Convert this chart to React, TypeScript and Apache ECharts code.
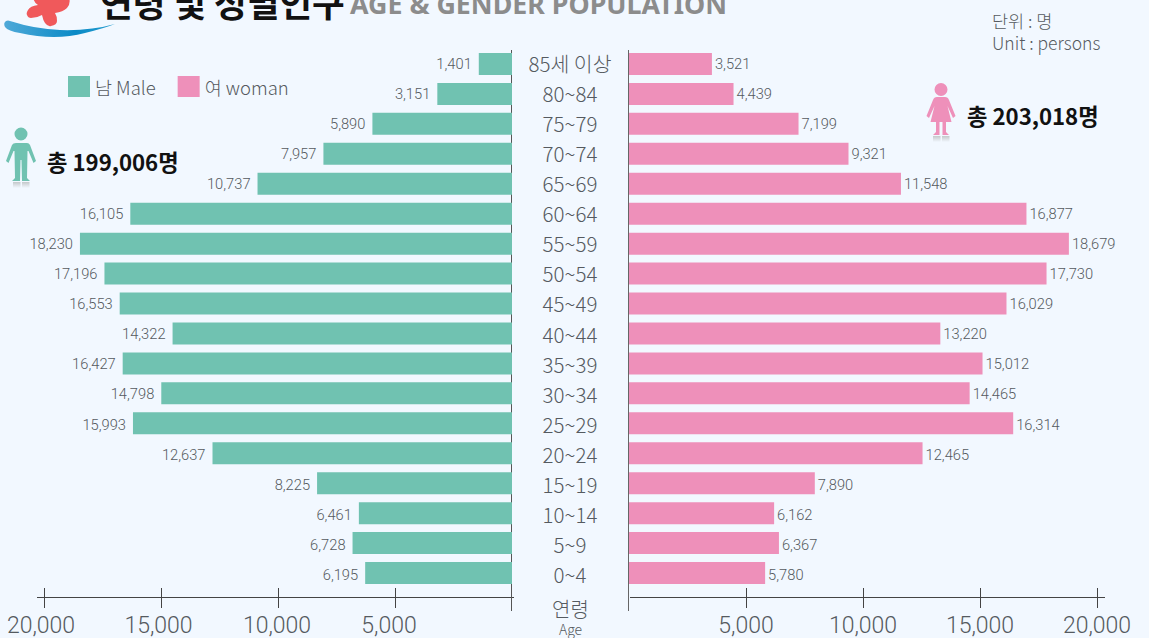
import React, { useEffect, useRef } from "react";
import * as echarts from "echarts";

const ageGroups = ["85세 이상","80~84","75~79","70~74","65~69","60~64","55~59","50~54","45~49","40~44","35~39","30~34","25~29","20~24","15~19","10~14","5~9","0~4"];
const maleValues = [1401,3151,5890,7957,10737,16105,18230,17196,16553,14322,16427,14798,15993,12637,8225,6461,6728,6195];
const femaleValues = [3521,4439,7199,9321,11548,16877,18679,17730,16029,13220,15012,14465,16314,12465,7890,6162,6367,5780];
const axisTicks = [5000,10000,15000,20000];
const maleName = "남 Male";
const femaleName = "여 woman";
const maleTotal = "총 199,006명";
const femaleTotal = "총 203,018명";
const titleKo = "연령 및 성별인구";
const titleEn = "AGE & GENDER POPULATION";

const BG = "#f2f8ff";
const TEAL = "#70c2b1";
const PINK = "#ee90ba";
const TXT = "#555a60";
const FONT = "'Noto Sans CJK KR', 'Noto Sans', sans-serif";
const NUM = "Roboto, 'Noto Sans CJK KR', sans-serif";

const circ = (cx: number, cy: number, r: number) =>
  `M${cx - r} ${cy}A${r} ${r} 0 1 1 ${cx + r} ${cy}A${r} ${r} 0 1 1 ${cx - r} ${cy}Z`;

const manPath = circ(21, 134, 6.5) +
  "M16 143L27 143Q29 143 30 145L36 161L33.5 163L28.5 151L27.5 151L27 178L30 181L22 181L21.5 160L20.5 160L20 181L12 181L15 178L14.5 151L13.5 151L8.5 163L6 161L12 145Q13 143 16 143Z";
const womanPath = circ(941, 89.5, 6.5) +
  "M937 97L945 97Q948 97 949 100L955.5 116L953 118L947.5 106L951.5 122L946 122L946 132L949 135L942.5 135L942.5 122L939.5 122L939.5 135L933 135L936 132L936 122L930.5 122L934.5 106L929 118L926.5 116L933 100Q934 97 937 97Z";
const swooshPath = "M6 21Q3 23 5 27Q8 31 20 33Q55 41 85 33Q105 28 115 24Q90 31 60 30Q35 29 10 21Q8 20 6 21Z";
const flowerPath = "M33 -3Q34 3 38 5Q30 6 28 10Q26 13 27 15Q28 18 31 18Q37 18 42 15Q43 20 45 23Q48 27 51 26Q57 25 57 21Q57 16 55 13Q63 12 67 8Q71 4 69 -3Z";

const shapesRegistered = { done: false };
function registerShapes() {
  if (shapesRegistered.done) return;
  echarts.graphic.registerShape("manIcon", echarts.graphic.extendPath(manPath, {}));
  echarts.graphic.registerShape("womanIcon", echarts.graphic.extendPath(womanPath, {}));
  echarts.graphic.registerShape("swoosh", echarts.graphic.extendPath(swooshPath, {}));
  echarts.graphic.registerShape("flower", echarts.graphic.extendPath(flowerPath, {}));
  shapesRegistered.done = true;
}

const fmt = (v: number) => v.toLocaleString("en-US");

export default function App() {
  const ref = useRef<HTMLDivElement>(null);
  useEffect(() => {
    document.body.style.margin = "0";
    document.body.style.background = BG;
    registerShapes();
    const chart = echarts.init(ref.current!, null, { renderer: "svg" });
    const line = (x1: number, y1: number, x2: number, y2: number, stroke: string) => ({
      type: "line", silent: true, shape: { x1, y1, x2, y2 }, style: { stroke, lineWidth: 1 },
    });
    const text = (x: number, y: number, t: string, size: number, fill: string, extra: any = {}) => ({
      type: "text", x, y, style: { text: t, fontSize: size, fill, fontFamily: FONT, fontWeight: 300, verticalAlign: "middle", ...extra },
    });
    const hiddenBarAxis = (gridIndex: number, inverse: boolean) => ({
      type: "value", gridIndex, inverse, min: 0, max: 20000, interval: 5000,
      axisLine: { show: false }, splitLine: { show: false }, axisTick: { show: false }, axisLabel: { show: false },
    });
    const tickAxisBase = (gridIndex: number, inverse: boolean, offset: number) => ({
      type: "value", gridIndex, inverse, min: 0, max: 20000, interval: 5000, position: "bottom", offset,
      axisLine: { show: false }, splitLine: { show: false },
    });
    const labelStyle = { fontSize: 23, color: TXT, fontFamily: NUM, fontWeight: 300 };
    const leftShift: Record<number, number> = { 20000: 3, 15000: 2.5, 10000: 1, 5000: 6 };
    const mainAxis = (gridIndex: number, inverse: boolean, offset: number) => ({
      ...tickAxisBase(gridIndex, inverse, offset),
      axisTick: { show: true, customValues: axisTicks, length: 11, lineStyle: { color: "#444", width: 1 } },
      axisLabel: {
        show: true, customValues: axisTicks, hideOverlap: false, margin: 17, ...labelStyle,
        formatter: inverse ? (v: number) => `{s${v}|${fmt(v)}}` : (v: number) => fmt(v),
        rich: inverse
          ? Object.fromEntries(axisTicks.map((v) => [`s${v}`, { ...labelStyle, padding: [0, leftShift[v] * 2, 0, 0] }]))
          : undefined,
      },
    });
    const innerAxis = (gridIndex: number, inverse: boolean, offset: number) => ({
      ...tickAxisBase(gridIndex, inverse, offset),
      axisTick: { show: true, customValues: axisTicks, inside: true, length: 9, lineStyle: { color: "#444", width: 1 } },
      axisLabel: { show: false },
    });
    const labelled = (values: number[]) =>
      values.map((value, i) => ({ value, label: { offset: [0, i * 0.1] } }));
    const barLabel = (position: string, distance: number) => ({
      show: true, position, distance, formatter: (p: any) => fmt(p.value), fontSize: 14.7, color: TXT, fontFamily: NUM, fontWeight: 300,
    });
    const hiddenCat = (gridIndex: number) => ({
      type: "category", gridIndex, data: ageGroups, inverse: true,
      axisLine: { show: false }, axisTick: { show: false }, axisLabel: { show: false },
    });
    chart.setOption({
      animation: false,
      backgroundColor: BG,
      textStyle: { fontFamily: FONT },
      legend: {
        left: 63, top: 71, itemWidth: 22, itemHeight: 21, itemGap: 22, icon: "rect",
        selectedMode: false,
        data: [maleName, femaleName],
        textStyle: { fontSize: 18.5, color: TXT, fontFamily: FONT, fontWeight: 300 },
      },
      grid: [
        { left: 38, width: 474, top: 49, height: 539 },
        { left: 629, width: 471, top: 49, height: 539 },
        { left: 44, width: 468, top: 49, height: 539 },
        { left: 629, width: 468, top: 47.5, height: 542 },
      ],
      xAxis: [
        hiddenBarAxis(0, true), hiddenBarAxis(1, false),
        mainAxis(2, true, 9), mainAxis(3, false, 7.5),
        innerAxis(2, true, 9), innerAxis(3, false, 7.5),
      ],
      yAxis: [
        hiddenCat(0), hiddenCat(1), hiddenCat(2),
        { type: "category", gridIndex: 3, data: ageGroups, inverse: true, position: "left", axisLine: { show: false }, axisTick: { show: false },
          axisLabel: { show: true, align: "center", margin: 59, fontSize: 20.5, color: TXT, fontFamily: FONT, fontWeight: 300 } },
      ],
      series: [
        { type: "bar", name: maleName, xAxisIndex: 0, yAxisIndex: 0, data: labelled(maleValues), barWidth: 22, itemStyle: { color: TEAL }, label: barLabel("left", 7) },
        { type: "bar", name: femaleName, xAxisIndex: 1, yAxisIndex: 1, data: labelled(femaleValues), barWidth: 22, itemStyle: { color: PINK }, label: barLabel("right", 3) },
      ],
      graphic: [
        line(37, 597.5, 514, 597.5, "#444"),
        line(630, 597.5, 1105, 597.5, "#444"),
        line(511.5, 50, 511.5, 611, "#555"),
        line(628.5, 50, 628.5, 611, "#666"),
        { type: "swoosh", style: { fill: new echarts.graphic.LinearGradient(0, 0, 1, 0, [
          { offset: 0, color: "#4fa9d8" }, { offset: 0.65, color: "#0a8ac6" }, { offset: 1, color: "#2a9fd0" },
        ], false) } },
        { type: "flower", style: { fill: "#f0595b" } },
        { type: "text", x: 100, y: 19, style: { text: titleKo, fontSize: 35.5, fontWeight: 700, fill: "#111", fontFamily: FONT, verticalAlign: "bottom" } },
        { type: "text", x: 350, y: 17, style: { text: titleEn, fontSize: 26.8, fontWeight: 700, fill: "#8c8c8c", fontFamily: "'Noto Sans', sans-serif", verticalAlign: "bottom" } },
        text(992, 20, "단위 : 명", 17.5, TXT),
        text(992, 42.5, "Unit : persons", 17.5, TXT),
        { type: "manIcon", style: { fill: TEAL } },
        { type: "womanIcon", style: { fill: PINK } },
        ...[[13, 182], [22, 182], [933, 136], [942, 136]].map(([x, y]) => ({
          type: "rect", shape: { x, y, width: 7.5, height: 6 },
          style: { fill: new echarts.graphic.LinearGradient(0, 0, 0, 1, [
            { offset: 0, color: "#c4c8ca" }, { offset: 1, color: BG },
          ], false) },
        })),
        text(47, 160.5, maleTotal, 22.2, "#111", { fontWeight: 700 }),
        text(967, 114.5, femaleTotal, 22.2, "#111", { fontWeight: 700 }),
        text(570.5, 608, "연령", 20, TXT, { align: "center" }),
        text(570.5, 629, "Age", 14, TXT, { align: "center" }),
      ],
    });
    return () => chart.dispose();
  }, []);
  return <div ref={ref} style={{ width: 1149, height: 638 }} />;
}
